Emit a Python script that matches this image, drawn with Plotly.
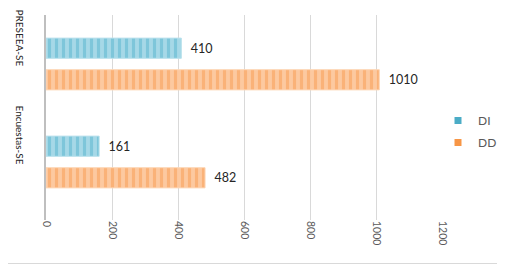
import plotly.graph_objects as go

categories = ["PRESEEA-SE", "Encuestas-SE"]
di_values = [410, 161]
dd_values = [1010, 482]
x_ticks = [0, 200, 400, 600, 800, 1000, 1200]

# page has an 8px body margin, so the figure is drawn 8px smaller
W, H = 497, 256
ML, MR, MT, MB = 38, 63, 7, 44
pw = W - ML - MR
ph = H - MT - MB

fig = go.Figure()
fig.add_trace(go.Bar(
    y=categories, x=di_values, name="DI", orientation="h", showlegend=False,
    marker=dict(color="#a6d8e7", line=dict(color="#b9e1ec", width=1),
                pattern=dict(shape="|", fgcolor="#55b3cd", size=7, solidity=0.45)),
    text=["\u00a0\u00a0" + str(v) for v in di_values], textposition="outside",
    textfont=dict(color="#262626", size=12.5, family="Lato"),
    cliponaxis=False,
))
fig.add_trace(go.Bar(
    y=categories, x=dd_values, name="DD", orientation="h", showlegend=False,
    marker=dict(color="#fcc9a0", line=dict(color="#fdd6b6", width=1),
                pattern=dict(shape="|", fgcolor="#f89c50", size=7, solidity=0.45)),
    text=["\u00a0\u00a0" + str(v) for v in dd_values], textposition="outside",
    textfont=dict(color="#262626", size=12.5, family="Lato"),
    cliponaxis=False,
))
# legend entries with small square swatches
fig.add_trace(go.Scatter(x=[None], y=[None], mode="markers", name="DI",
                         marker=dict(symbol="square", size=7, color="#4bacc6"),
                         legendgroup="a"))
fig.add_trace(go.Scatter(x=[None], y=[None], mode="markers", name="DD",
                         marker=dict(symbol="square", size=7, color="#f79646"),
                         legendgroup="b"))

for c in categories:
    fig.add_annotation(
        x=-(ML - 12) / pw, xref="paper", xanchor="center",
        y=c, yref="y", yanchor="bottom", yshift=-5,
        text=c, textangle=90, showarrow=False,
        font=dict(color="#262626", size=10, family="Lato"),
    )

fig.add_shape(
    type="rect", xref="paper", yref="paper",
    x0=(-8 + 0.5 - ML) / pw, x1=(W - 0.5 - ML) / pw,
    y0=-(H - 0.5 - MT - ph) / ph, y1=(ph + MT + 8 - 0.5) / ph,
    line=dict(color="#d9d9d9", width=1),
)

fig.update_layout(
    width=W, height=H,
    margin=dict(l=ML, r=MR, t=MT, b=MB, autoexpand=False),
    paper_bgcolor="white", plot_bgcolor="white",
    barmode="group", bargap=0.356, bargroupgap=0.36,
    font=dict(family="Lato", color="#595959"),
    legend=dict(x=(430 - ML) / pw, y=(ph + MT - 123.5) / ph, xanchor="left", yanchor="middle",
                font=dict(size=12, color="#595959", family="Lato"), itemwidth=30,
                traceorder="grouped", tracegroupgap=3, bgcolor="rgba(0,0,0,0)"),
    xaxis=dict(range=[0, 1200], tickvals=x_ticks, ticktext=[str(t) for t in x_ticks],
               tickangle=90, showgrid=True, gridcolor="#d9d9d9", gridwidth=1,
               zeroline=False, showline=False, automargin=False,
               tickfont=dict(size=10.5, color="#595959", family="Lato"), ticks=""),
    yaxis=dict(autorange="reversed", showticklabels=False, showline=True,
               linecolor="#bfbfbf", linewidth=2, showgrid=False, ticks="",
               automargin=False),
)

fig.write_html("out.html")
